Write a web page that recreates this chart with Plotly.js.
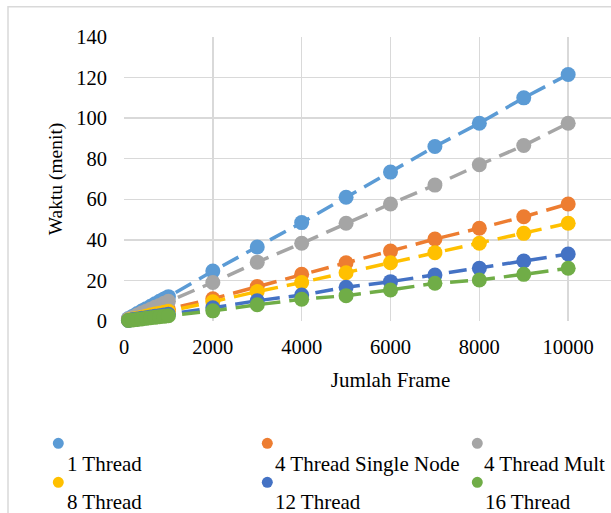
<!DOCTYPE html>
<html>
<head>
<meta charset="utf-8">
<script src="https://cdn.plot.ly/plotly-3.0.1.min.js"></script>
<style>
html,body{margin:0;padding:0;overflow:hidden;background:#fff;width:611px;height:513px;}
#chart{width:680px;height:513px;}
</style>
</head>
<body>
<div id="chart"></div>
<script>
// Data
const frames = [100,200,300,400,500,600,700,800,900,1000,2000,3000,4000,5000,6000,7000,8000,9000,10000];
const seriesNames = ["1 Thread","4 Thread Single Node","4 Thread Multi Node","8 Thread","12 Thread","16 Thread"];
const legendLabels = ["1 Thread","4 Thread Single Node","4 Thread Mult","8 Thread","12 Thread","16 Thread"];
const thread1      = [1.2,2.4,3.7,4.9,6.1,7.3,8.5,9.7,10.9,12.0,24.6,36.5,48.5,61.0,73.4,86.0,97.5,110.0,121.5];
const thread4Single= [0.6,1.2,1.8,2.3,2.9,3.5,4.0,4.6,5.2,5.8,11.0,17.0,23.0,28.7,34.5,40.4,45.7,51.4,57.7];
const thread4Multi = [1.0,1.9,2.9,3.9,4.8,5.8,6.8,7.7,8.7,9.7,19.0,29.0,38.3,48.2,57.7,67.0,77.0,86.5,97.5];
const thread8      = [0.5,1.0,1.4,1.9,2.4,2.9,3.4,3.8,4.3,4.8,9.5,14.5,19.0,23.8,28.7,33.7,38.3,43.2,48.2];
const thread12     = [0.3,0.7,1.0,1.3,1.6,2.0,2.3,2.6,3.0,3.3,6.5,10.0,12.8,16.6,19.4,22.7,26.0,29.6,33.0];
const thread16     = [0.3,0.5,0.8,1.0,1.3,1.6,1.8,2.1,2.3,2.6,5.0,8.0,10.7,12.5,15.3,18.6,20.2,23.0,26.0];
const xTicks = [0,2000,4000,6000,8000,10000,12000];
const yTicks = [0,20,40,60,80,100,120,140];

const allSeries = [thread1, thread4Single, thread4Multi, thread8, thread12, thread16];
const colors = ["#5B9BD5","#ED7D31","#A5A5A5","#FFC000","#4472C4","#70AD47"];
const FONT = "Liberation Serif, Times New Roman, serif";

const traces = allSeries.map((ys, i) => ({
  x: frames, y: ys, name: seriesNames[i], type: "scatter", mode: "lines+markers",
  marker: {color: colors[i], size: 15},
  line: {color: colors[i], width: 3.5, dash: "18px,9px"},
  cliponaxis: false, showlegend: false
}));

// geometry helpers (pixel -> paper)
const ML = 124, MR = 23, MT = 37, MB = 192, W = 680, H = 513;
const PW = W - ML - MR, PH = H - MT - MB;
const px = v => (v - ML) / PW;
const py = v => (H - MB - v) / PH;

const legendPos = [
  {mx:58.3, my:443.3, tx:65, ty:464},
  {mx:267.3, my:443.3, tx:273, ty:464},
  {mx:477.3, my:443.3, tx:482, ty:464},
  {mx:58.3, my:482.3, tx:65, ty:502},
  {mx:267.3, my:482.3, tx:273, ty:502},
  {mx:477.3, my:482.3, tx:483, ty:502}
];

const shapes = [{
  type:"rect", xref:"paper", yref:"paper",
  x0: px(8), x1: px(720), y0: py(6.7), y1: py(540),
  line:{color:"#D9D9D9", width:1.5}, fillcolor:"rgba(0,0,0,0)", layer:"below"
}];
const annotations = [];
legendPos.forEach((p, i) => {
  shapes.push({
    type:"circle", xref:"paper", yref:"paper", xsizemode:"pixel", ysizemode:"pixel",
    xanchor: px(p.mx), yanchor: py(p.my), x0:-5.5, x1:5.5, y0:-5.5, y1:5.5,
    fillcolor: colors[i], line:{width:0}
  });
  annotations.push({
    xref:"paper", yref:"paper", x: px(p.tx), y: py(p.ty), xanchor:"left", yanchor:"middle",
    text: legendLabels[i], showarrow:false, font:{family:FONT, size:21, color:"#000"}
  });
});

const layout = {
  width: W, height: H,
  margin: {l: ML, r: MR, t: MT, b: MB, pad: 0},
  paper_bgcolor: "#fff", plot_bgcolor: "#fff",
  font: {family: FONT, size: 21, color: "#000"},
  showlegend: false,
  xaxis: {
    range: [0, 12000], tickvals: xTicks, ticktext: xTicks.map(String),
    showgrid: true, gridcolor: "#D9D9D9", gridwidth: 1.5,
    zeroline: false, showline: false, ticks: "", ticklabelstandoff: 11,
    tickfont: {family: FONT, size: 20.5, color: "#000"},
    title: {text: "Jumlah Frame", font: {family: FONT, size: 21, color: "#000"}, standoff: 15},
    fixedrange: true
  },
  yaxis: {
    range: [0, 140], tickvals: yTicks, ticktext: yTicks.map(String),
    showgrid: true, gridcolor: "#D9D9D9", gridwidth: 1.5,
    zeroline: false, showline: false, ticks: "", ticklabelstandoff: 16,
    tickfont: {family: FONT, size: 20.5, color: "#000"},
    title: {text: "Waktu (menit)", font: {family: FONT, size: 19.5, color: "#000"}, standoff: 8},
    fixedrange: true
  },
  shapes: shapes,
  annotations: annotations
};

Plotly.newPlot("chart", traces, layout, {displayModeBar: false, staticPlot: true});
</script>
</body>
</html>
